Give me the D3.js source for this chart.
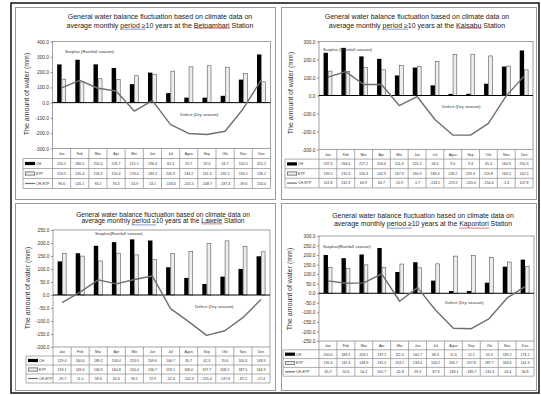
<!DOCTYPE html>
<html>
<head>
<meta charset="utf-8">
<script src="https://cdn.jsdelivr.net/npm/d3@7"></script>
<style>
  body { margin: 0; background: #fff; }
  svg { display: block; font-family: "Liberation Sans", Arial, sans-serif; }
</style>
</head>
<body>
<svg id="chart" width="541" height="395"></svg>
<script>
const months = ['Jan', 'Feb', 'Mar', 'Apr', 'Mei', 'Jun', 'Jul', 'Agus', 'Sep', 'Okt', 'Nov', 'Des'];
const legendLabels = ['CH', 'ETP', 'CH-ETP'];

// Betoambari
const betoambariCH = [250.1, 280.5, 250.4, 226.7, 121.1, 196.4, 62.3, 32.7, 32.6, 44.7, 150.5, 315.2];
const betoambariETP = [153.5, 135.4, 156.3, 150.4, 176.0, 183.3, 205.9, 234.2, 241.3, 232.1, 190.1, 136.2];
const betoambariDiff = [96.6, 145.1, 94.1, 76.3, -54.9, 13.1, -143.6, -201.5, -208.7, -187.4, -39.6, 150.0];
const betoambariTicks = [400, 300, 200, 100, 0, -100, -200, -300];

// Kaisabu
const kaisabuCH = [237.3, 264.6, 217.2, 203.6, 111.4, 155.2, 56.3, 9.0, 9.3, 65.4, 160.9, 250.3];
const kaisabuETP = [135.5, 132.3, 156.3, 142.9, 167.3, 160.9, 189.4, 228.2, 229.3, 219.8, 163.3, 142.5];
const kaisabuDiff = [101.8, 132.3, 60.9, 60.7, -55.9, -5.7, -133.1, -219.2, -220.0, -154.4, -2.4, 107.8];
const kaisabuTicks = [300, 200, 100, 0, -100, -200, -300];

// Lawele
const laweleCH = [129.4, 160.6, 189.2, 203.4, 213.9, 209.6, 106.7, 65.7, 42.3, 70.6, 100.3, 148.9];
const laweleETP = [159.1, 149.6, 130.9, 160.8, 154.4, 136.7, 159.1, 168.0, 197.7, 208.2, 187.5, 166.3];
const laweleDiff = [-29.7, 11.0, 58.3, 42.6, 59.5, 72.9, -52.4, -102.3, -155.4, -137.6, -87.2, -17.4];
const laweleTicks = [250, 200, 150, 100, 50, 0, -50, -100, -150, -200];

// Kapontori
const kapontoriCH = [200.6, 183.9, 203.1, 237.2, 111.3, 162.7, 66.3, 11.6, 12.1, 55.3, 139.2, 176.1];
const kapontoriETP = [135.4, 131.3, 148.9, 135.5, 153.1, 133.4, 154.2, 194.7, 197.8, 187.7, 163.6, 141.3];
const kapontoriDiff = [65.2, 52.6, 54.2, 101.7, -41.8, 29.3, -87.9, -183.1, -185.7, -132.4, -24.4, 34.8];
const kapontoriTicks = [300, 250, 200, 150, 100, 50, 0, -50, -100, -150, -200, -250];

const titleLine1 = 'General water balance fluctuation based on climate data on';
const surplusText = ['Surplus (Rainfall season)', 'Surplus (Rainfall season)', 'Surplus(Rainfall season)', 'Surplus(Rainfall season)'];
const deficitText = 'Deficit (Dry season)';
const yTitle = 'The amount of water (mm)';

const svg = d3.select('#chart');
const fmt = (v) => d3.format('.1f')(v).replace('\u2212', '-');

// outer frame
svg.append('rect')
  .attr('x', 11).attr('y', 3).attr('width', 528).attr('height', 390)
  .attr('fill', 'none').attr('stroke', '#111').attr('stroke-width', 1.5);

const panels = [
  {
    station: 'Betoambari', ch: betoambariCH, etp: betoambariETP, diff: betoambariDiff, ticks: betoambariTicks,
    frame: [15.5, 7.5, 275.5, 199.5], left: 52.5, right: 270.5, top: 41.5, bottom: 148.5, rowH: 10,
    legendLeft: 23, titleX: 160, titleY: [19.2, 27.5], titleSize: 7, yTitleX: 29, yTitleY: 94,
    surplus: [65, 53], deficit: [180, 116], s: 0,
  },
  {
    station: 'Kaisabu', ch: kaisabuCH, etp: kaisabuETP, diff: kaisabuDiff, ticks: kaisabuTicks,
    frame: [281.5, 7.5, 536.5, 199.5], left: 319, right: 533, top: 41.5, bottom: 149.5, rowH: 9.6,
    legendLeft: 285, titleX: 417, titleY: [19.2, 27.5], titleSize: 7, yTitleX: 293, yTitleY: 93,
    surplus: [323, 51], deficit: [442, 108], s: 1,
  },
  {
    station: 'Lawele', ch: laweleCH, etp: laweleETP, diff: laweleDiff, ticks: laweleTicks,
    frame: [15.5, 203.5, 275.5, 390.5], left: 53, right: 270, top: 230, bottom: 347, rowH: 9,
    legendLeft: 26, titleX: 163, titleY: [216.6, 223.2], titleSize: 6.6, yTitleX: 30, yTitleY: 288,
    surplus: [95, 235], deficit: [195, 308], s: 2,
  },
  {
    station: 'Kapontori', ch: kapontoriCH, etp: kapontoriETP, diff: kapontoriDiff, ticks: kapontoriTicks,
    frame: [281.5, 203.5, 536.5, 390.5], left: 319, right: 534, top: 236, bottom: 341, rowH: 8.8,
    legendLeft: 283, titleX: 423, titleY: [218.4, 226.4], titleSize: 6.9, yTitleX: 292, yTitleY: 289,
    surplus: [323, 248], deficit: [445, 304], s: 3,
  },
];

function underline(g, node, color) {
  const b = node.getBBox();
  g.append('line')
    .attr('x1', b.x).attr('x2', b.x + b.width)
    .attr('y1', b.y + b.height - 0.3).attr('y2', b.y + b.height - 0.3)
    .attr('stroke', color).attr('stroke-width', 0.6);
}

function drawPanel(p) {
  const g = svg.append('g');

  g.append('rect')
    .attr('x', p.frame[0]).attr('y', p.frame[1])
    .attr('width', p.frame[2] - p.frame[0]).attr('height', p.frame[3] - p.frame[1])
    .attr('fill', 'none').attr('stroke', '#9a9a9a').attr('stroke-width', 1);

  // title
  g.append('text')
    .attr('x', p.titleX).attr('y', p.titleY[0])
    .attr('text-anchor', 'middle').attr('font-size', p.titleSize).attr('fill', '#222')
    .text(titleLine1);
  const t2 = g.append('text')
    .attr('x', p.titleX).attr('y', p.titleY[1])
    .attr('text-anchor', 'middle').attr('font-size', p.titleSize).attr('fill', '#222');
  t2.append('tspan').text('average monthly ');
  const tPeriod = t2.append('tspan').text('period \u2265');
  t2.append('tspan').text('10 years at the ');
  const tStation = t2.append('tspan').text(p.station);
  t2.append('tspan').text(' Station');
  underline(g, tPeriod.node(), '#3050d0');
  underline(g, tStation.node(), '#d02020');

  const x = d3.scaleBand().domain(months).range([p.left, p.right]);
  const xs = d3.scaleBand().domain(['ch', 'etp']).range([0, x.bandwidth()]).paddingOuter(1.05);
  const y = d3.scaleLinear().domain([d3.min(p.ticks), d3.max(p.ticks)]).range([p.bottom, p.top]);

  // plot frame
  g.append('rect')
    .attr('x', p.left).attr('y', p.top)
    .attr('width', p.right - p.left).attr('height', p.bottom - p.top)
    .attr('fill', 'none').attr('stroke', '#8a8a8a').attr('stroke-width', 0.8);

  // y axis
  const yAxis = g.append('g')
    .attr('transform', `translate(${p.left},0)`)
    .call(d3.axisLeft(y).tickValues(p.ticks).tickFormat(fmt).tickSize(2).tickPadding(1.5));
  yAxis.select('.domain').remove();
  yAxis.selectAll('line').attr('stroke', '#555').attr('stroke-width', 0.6);
  yAxis.selectAll('text').attr('font-size', 4.8).attr('fill', '#333').attr('font-family', null);

  g.append('text')
    .attr('transform', `translate(${p.yTitleX},${p.yTitleY}) rotate(-90)`)
    .attr('text-anchor', 'middle').attr('font-size', 7).attr('fill', '#333')
    .text(yTitle);

  // bars
  g.append('g').selectAll('rect')
    .data(p.ch.map((v, i) => ({ m: months[i], v })))
    .join('rect')
    .attr('x', (d) => x(d.m) + xs('ch'))
    .attr('width', xs.bandwidth())
    .attr('y', (d) => y(Math.max(0, d.v)))
    .attr('height', (d) => Math.abs(y(d.v) - y(0)))
    .attr('fill', '#000');

  g.append('g').selectAll('rect')
    .data(p.etp.map((v, i) => ({ m: months[i], v })))
    .join('rect')
    .attr('x', (d) => x(d.m) + xs('etp') + 0.3)
    .attr('width', xs.bandwidth() - 0.6)
    .attr('y', (d) => y(Math.max(0, d.v)))
    .attr('height', (d) => Math.abs(y(d.v) - y(0)))
    .attr('fill', '#ededed').attr('stroke', '#555').attr('stroke-width', 0.6);

  // zero line
  g.append('line')
    .attr('x1', p.left).attr('x2', p.right)
    .attr('y1', y(0)).attr('y2', y(0))
    .attr('stroke', '#000').attr('stroke-width', 1);

  // CH-ETP line
  const line = d3.line()
    .x((d, i) => x(months[i]) + x.bandwidth() / 2)
    .y((d) => y(d));
  g.append('path')
    .datum(p.diff)
    .attr('d', line)
    .attr('fill', 'none').attr('stroke', '#6f6f6f').attr('stroke-width', 1.4)
    .attr('stroke-linejoin', 'round');

  // annotations
  g.append('text')
    .attr('x', p.surplus[0]).attr('y', p.surplus[1])
    .attr('font-size', 4.4).attr('fill', '#333')
    .text(surplusText[p.s]);
  g.append('text')
    .attr('x', p.deficit[0]).attr('y', p.deficit[1])
    .attr('font-size', 4.4).attr('fill', '#333')
    .text(deficitText);

  // data table
  const rowY = (r) => p.bottom + r * p.rowH;
  const tbl = g.append('g');
  const rows = [p.ch, p.etp, p.diff];

  // month header
  tbl.selectAll('text.mh')
    .data(months)
    .join('text')
    .attr('class', 'mh')
    .attr('x', (d) => x(d) + x.bandwidth() / 2)
    .attr('y', rowY(0) + p.rowH / 2 + 1.3)
    .attr('text-anchor', 'middle').attr('font-size', 3.6).attr('fill', '#333')
    .text((d) => d);

  rows.forEach((vals, r) => {
    tbl.selectAll(`text.r${r}`)
      .data(vals)
      .join('text')
      .attr('class', `r${r}`)
      .attr('x', (d, i) => x(months[i]) + x.bandwidth() / 2)
      .attr('y', rowY(r + 1) + p.rowH / 2 + 1.3)
      .attr('text-anchor', 'middle').attr('font-size', 3.6).attr('fill', '#333')
      .text((d) => fmt(d));
  });

  // grid: vertical lines
  tbl.selectAll('line.v')
    .data(months.concat(['end']))
    .join('line')
    .attr('class', 'v')
    .attr('x1', (d) => (d === 'end' ? p.right : x(d)))
    .attr('x2', (d) => (d === 'end' ? p.right : x(d)))
    .attr('y1', rowY(0)).attr('y2', rowY(4))
    .attr('stroke', '#8a8a8a').attr('stroke-width', 0.7);
  tbl.selectAll('line.h')
    .data([1, 2, 3, 4])
    .join('line')
    .attr('class', 'h')
    .attr('x1', p.legendLeft).attr('x2', p.right)
    .attr('y1', (d) => rowY(d)).attr('y2', (d) => rowY(d))
    .attr('stroke', '#8a8a8a').attr('stroke-width', 0.7);
  tbl.append('line')
    .attr('x1', p.legendLeft).attr('x2', p.legendLeft)
    .attr('y1', rowY(1)).attr('y2', rowY(4))
    .attr('stroke', '#8a8a8a').attr('stroke-width', 0.7);

  // legend keys
  legendLabels.forEach((lab, r) => {
    const cy = rowY(r + 1) + p.rowH / 2;
    const sx = p.legendLeft + 2;
    if (r === 0) {
      tbl.append('rect').attr('x', sx).attr('y', cy - 1.6).attr('width', 10).attr('height', 3.2).attr('fill', '#000');
    } else if (r === 1) {
      tbl.append('rect').attr('x', sx + 0.3).attr('y', cy - 1.6).attr('width', 9.4).attr('height', 3.2)
        .attr('fill', '#ededed').attr('stroke', '#555').attr('stroke-width', 0.7);
    } else {
      tbl.append('line').attr('x1', sx).attr('x2', sx + 10).attr('y1', cy).attr('y2', cy)
        .attr('stroke', '#6f6f6f').attr('stroke-width', 1.2);
    }
    tbl.append('text')
      .attr('x', sx + 11).attr('y', cy + 1.3)
      .attr('font-size', 3.6).attr('fill', '#333')
      .text(lab);
  });
}

panels.forEach(drawPanel);
</script>
</body>
</html>
